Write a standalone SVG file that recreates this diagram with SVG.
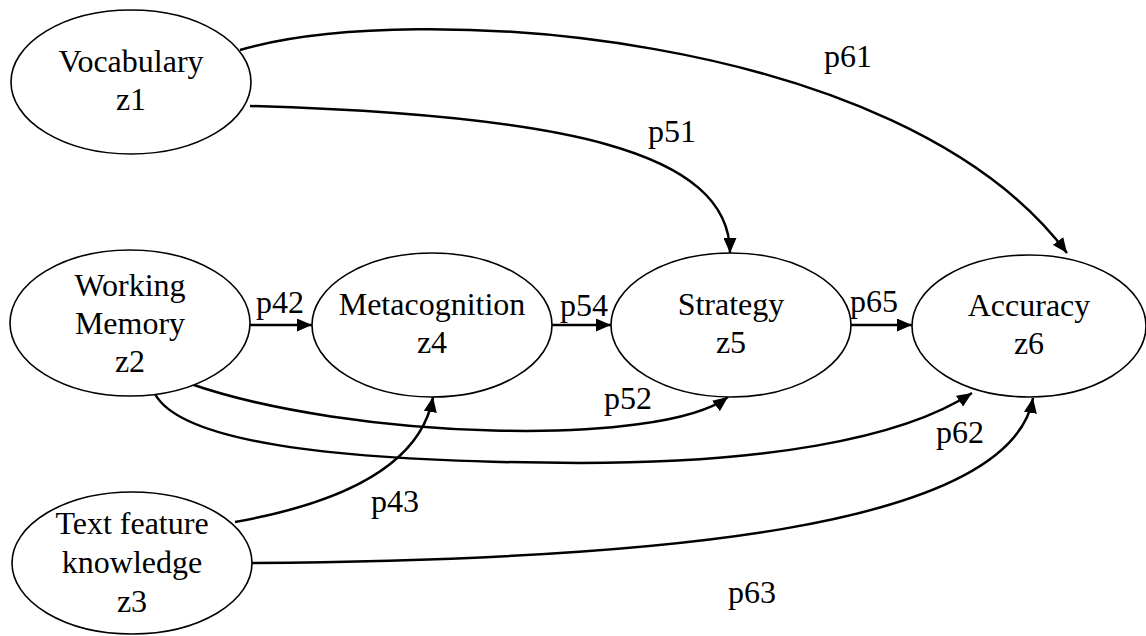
<svg xmlns="http://www.w3.org/2000/svg" width="1146" height="636" viewBox="0 0 1146 636">
  <style>
    .node ellipse { fill: #ffffff; stroke: #000000; stroke-width: 1.6; }
    .node text, .label { font-family: "Liberation Serif", "Times New Roman", serif; font-size: 32px; fill: #000000; text-anchor: middle; }
    .edge { fill: none; stroke: #000000; stroke-width: 2.5; marker-end: url(#arrow); }
  </style>
  <defs>
    <marker id="arrow" markerUnits="userSpaceOnUse" markerWidth="16" markerHeight="13" refX="15" refY="6.5" orient="auto">
      <path d="M0,0 L15,6.5 L0,13 z" fill="#000000"/>
    </marker>
  </defs>
  <rect width="1146" height="636" fill="#ffffff"/>

  <!-- paths between the latent variables -->
  <g id="connectors">
    <!-- z1 -> z6 -->
    <path class="edge" d="M240,50 C410,0 900,30 1067,253"/>
    <!-- z1 -> z5 -->
    <path class="edge" d="M250,106 C560,115 730,150 730,253"/>
    <!-- z2 -> z4 -->
    <path class="edge" d="M250,325 L312,325"/>
    <!-- z4 -> z5 -->
    <path class="edge" d="M552,325 L611,325"/>
    <!-- z5 -> z6 -->
    <path class="edge" d="M851,325 L912,325"/>
    <!-- z2 -> z5 -->
    <path class="edge" d="M188,383 C350,440 660,448 728,397"/>
    <!-- z2 -> z6 -->
    <path class="edge" d="M155,394 C180,440 320,462 580,463 C760,463 900,440 972,393"/>
    <!-- z3 -> z4 -->
    <path class="edge" d="M235,522 C330,505 420,470 433,397"/>
    <!-- z3 -> z6 -->
    <path class="edge" d="M252,563 C650,560 1010,530 1033,398"/>

    <text class="label" x="848" y="67">p61</text>
    <text class="label" x="672" y="142">p51</text>
    <text class="label" x="280" y="313">p42</text>
    <text class="label" x="584" y="316">p54</text>
    <text class="label" x="874" y="312">p65</text>
    <text class="label" x="628" y="409">p52</text>
    <text class="label" x="960" y="443">p62</text>
    <text class="label" x="395" y="512">p43</text>
    <text class="label" x="752" y="603">p63</text>
  </g>

  <g id="z1" class="node">
    <ellipse cx="131" cy="82" rx="120" ry="72"/>
    <text x="131" y="72">Vocabulary</text>
    <text x="131" y="110">z1</text>
  </g>

  <g id="z2" class="node">
    <ellipse cx="130" cy="323" rx="120" ry="73"/>
    <text x="130" y="296">Working</text>
    <text x="130" y="334">Memory</text>
    <text x="130" y="372">z2</text>
  </g>

  <g id="z3" class="node">
    <ellipse cx="132" cy="563" rx="120" ry="71"/>
    <text x="132" y="534">Text feature</text>
    <text x="132" y="573">knowledge</text>
    <text x="132" y="612">z3</text>
  </g>

  <g id="z4" class="node">
    <ellipse cx="432" cy="325" rx="120" ry="72"/>
    <text x="432" y="315">Metacognition</text>
    <text x="432" y="353">z4</text>
  </g>

  <g id="z5" class="node">
    <ellipse cx="731" cy="325" rx="120" ry="72"/>
    <text x="731" y="315">Strategy</text>
    <text x="731" y="353">z5</text>
  </g>

  <g id="z6" class="node">
    <ellipse cx="1029" cy="326" rx="117" ry="71"/>
    <text x="1029" y="316">Accuracy</text>
    <text x="1029" y="354">z6</text>
  </g>
</svg>
